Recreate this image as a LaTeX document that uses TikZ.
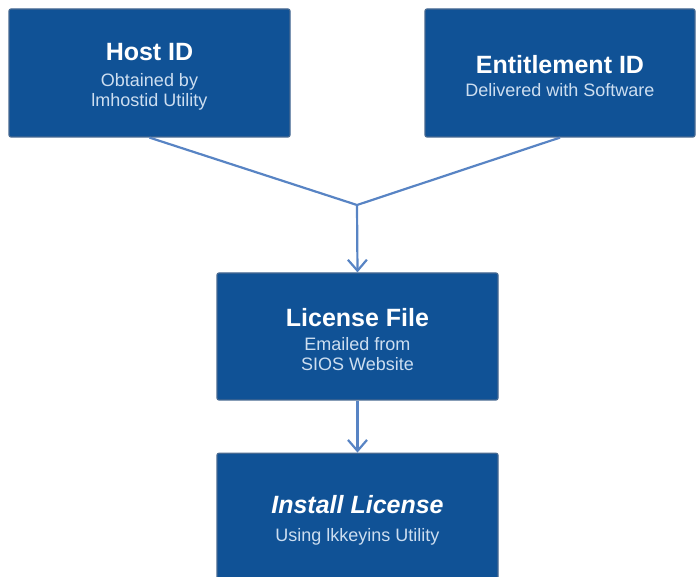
\documentclass[tikz,border=0pt]{standalone}
\usepackage{fontspec}
\setmainfont{Liberation Sans}
\usetikzlibrary{arrows.meta,positioning}

\definecolor{boxblue}{RGB}{16,82,150}
\definecolor{boxedge}{RGB}{70,105,145}
\definecolor{linkblue}{RGB}{88,132,196}
\definecolor{subtext}{RGB}{205,222,240}

\newcommand{\boxtitle}[1]{{\rule{0pt}{25pt}\color{white}\fontsize{25}{27}\selectfont\bfseries #1}}

\tikzset{
  stepbox/.style={draw=boxedge, line width=1.2pt, fill=boxblue, rounded corners=2pt,
    minimum width=281pt, minimum height=128pt, align=center, text=subtext, inner sep=0pt,
    font=\fontsize{18}{20}\selectfont},
  link/.style={draw=linkblue, line width=2.2pt},
  linkarrow/.style={link, -{Straight Barb[length=11pt,width=19pt]}}
}

\begin{document}
\begin{tikzpicture}[x=1pt,y=-1pt]
		\useasboundingbox (0,0) rectangle (697,577);
		
		% the two inputs
		\node[stepbox] (host) at (149.5,73) {\boxtitle{Host ID}\\[6pt]Obtained by\\ lmhostid Utility};
		\node[stepbox, minimum width=270pt] (ent) at (560,73) {\boxtitle{Entitlement ID}\\[3pt]Delivered with Software};
		
		% license steps
		\node[stepbox, minimum height=127pt] (lic) at (357.5,336.5) {\boxtitle{License File}\\[4pt]Emailed from\\ SIOS Website};
		\node[stepbox, below=52pt of lic] (inst) {\boxtitle{\itshape Install License}\\[8pt]Using lkkeyins Utility};
		
		\coordinate (join) at (357,205);
		
		\draw[link] (host.south) -- (join) -- (ent.south);
		\draw[linkarrow] (join) -- (lic.north);
		\draw[linkarrow] (lic.south) -- (inst.north);
		
	\end{tikzpicture}
\end{document}
